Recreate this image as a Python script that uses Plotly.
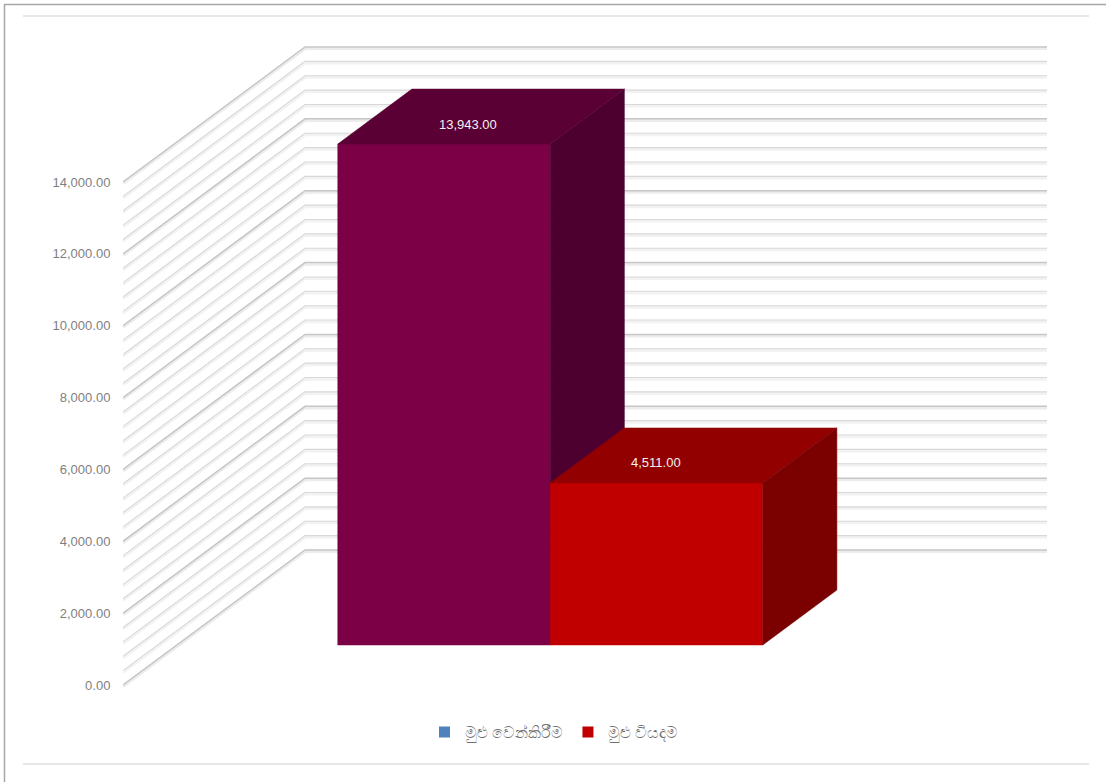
import plotly.graph_objects as go

# ---------------- data ----------------
categories = ["මුළු වෙන්කිරීම", "මුළු වියදම"]
values = [13943.00, 4511.00]
face_colors = ["#7b0046", "#c00000"]
top_colors = ["#5b0034", "#920000"]
side_colors = ["#4d0030", "#7b0000"]
legend_colors = ["#4f81bd", "#c00000"]
y_tick_values = [0, 2000, 4000, 6000, 8000, 10000, 12000, 14000]
y_tick_labels = ["0.00", "2,000.00", "4,000.00", "6,000.00", "8,000.00",
                 "10,000.00", "12,000.00", "14,000.00"]
grid_step = 400

# ---------------- geometry (styles) ----------------
W, H = 1106, 782
PLOT_LEFT = 123
PX_PER_U = 212.5          # one category width in px
U0_PX = 444               # px of category 0 front-face centre
K = 503 / 14000           # px per value unit
ZERO_PX = 685             # px of value 0 on the front-left plane
DEPTH_X_PX, DEPTH_Y_PX = 182, 135
DX = DEPTH_X_PX / PX_PER_U
DY = DEPTH_Y_PX / K
D0, D1 = 0.2963, 0.7037   # bar depth span
WALL_RIGHT_PX = 1047

x_range = [(PLOT_LEFT - U0_PX) / PX_PER_U, (W - U0_PX) / PX_PER_U]
y_range = [-(H - ZERO_PX) / K, ZERO_PX / K]


def proj(u, v, d):
    return u + d * DX, v + d * DY


fig = go.Figure()

# ---------------- gridlines (side wall + back wall) ----------------
u_wall_left = x_range[0]
u_wall_right = (WALL_RIGHT_PX - U0_PX) / PX_PER_U - DX
top_val = max(y_tick_values)
grid_vals = [i * grid_step for i in range(int(top_val / grid_step) + 1)]


def grid_xy(vals, offset_px=0.0):
    xs, ys = [], []
    for v in vals:
        vv = v - offset_px / K
        for (u, d) in [(u_wall_left, 0), (u_wall_left, 1), (u_wall_right, 1)]:
            x, y = proj(u, vv, d)
            xs.append(x)
            ys.append(y)
        xs.append(None)
        ys.append(None)
    return xs, ys


minor = [v for v in grid_vals if v not in y_tick_values]
major = [v for v in grid_vals if v in y_tick_values]

for vals, col, wid in [(minor, "#f2f2f2", 3), (major, "#ececec", 3)]:
    xs, ys = grid_xy(vals, offset_px=1.6)
    fig.add_trace(go.Scatter(x=xs, y=ys, mode="lines", line=dict(color=col, width=wid),
                             hoverinfo="skip", showlegend=False))
for vals, col, wid in [(minor, "#d8d8d8", 1.1), (major, "#c6c6c6", 1.5)]:
    xs, ys = grid_xy(vals)
    fig.add_trace(go.Scatter(x=xs, y=ys, mode="lines", line=dict(color=col, width=wid),
                             hoverinfo="skip", showlegend=False))

# ---------------- 3D bars ----------------
for i, (cat, val) in enumerate(zip(categories, values)):
    ul = i - 0.5 - D0 * DX
    ur = i + 0.5 - D0 * DX
    faces = []
    # front face
    faces.append(([(ul, 0, D0), (ur, 0, D0), (ur, val, D0), (ul, val, D0)], face_colors[i]))
    # top face
    faces.append(([(ul, val, D0), (ur, val, D0), (ur, val, D1), (ul, val, D1)], top_colors[i]))
    # side face
    faces.append(([(ur, 0, D0), (ur, 0, D1), (ur, val, D1), (ur, val, D0)], side_colors[i]))
    for pts, col in faces:
        xs, ys = zip(*[proj(*p) for p in pts])
        fig.add_trace(go.Scatter(x=list(xs) + [xs[0]], y=list(ys) + [ys[0]], mode="lines",
                                 fill="toself", fillcolor=col, line=dict(color=col, width=0.5),
                                 hoverinfo="skip", showlegend=False))

# value labels
label_xshift = [24, -1]
for i, val in enumerate(values):
    x, y = proj(i - D0 * DX, val, D0)
    fig.add_annotation(x=x, y=y, text=f"{val:,.2f}", showarrow=False,
                       yshift=20, xshift=label_xshift[i],
                       font=dict(size=13, color="#f2f2f2", family="Liberation Sans, Arial"))

# legend entries
for cat, col in zip(categories, legend_colors):
    fig.add_trace(go.Scatter(x=[None], y=[None], mode="markers", name=cat,
                             marker=dict(symbol="square", size=11, color=col)))


def px_x(p):
    return (p - PLOT_LEFT) / (W - PLOT_LEFT)


def px_y(p):
    return 1 - p / H


shapes = [
    dict(type="line", xref="paper", yref="paper", x0=px_x(4), x1=px_x(W), y0=px_y(4.5), y1=px_y(4.5),
         line=dict(color="#a6a6a6", width=1.5)),
    dict(type="line", xref="paper", yref="paper", x0=px_x(4.5), x1=px_x(4.5), y0=px_y(4), y1=px_y(H),
         line=dict(color="#a6a6a6", width=1.5)),
    dict(type="line", xref="paper", yref="paper", x0=px_x(23), x1=px_x(1089), y0=px_y(16), y1=px_y(16),
         line=dict(color="#e0e0e0", width=1.5)),
    dict(type="line", xref="paper", yref="paper", x0=px_x(23), x1=px_x(1089), y0=px_y(764), y1=px_y(764),
         line=dict(color="#e0e0e0", width=1.5)),
]

fig.update_layout(
    width=W, height=H,
    margin=dict(l=PLOT_LEFT, r=0, t=0, b=0),
    paper_bgcolor="white", plot_bgcolor="white",
    shapes=shapes,
    showlegend=True,
    legend=dict(orientation="h", x=px_x(554), y=px_y(732), xanchor="center", yanchor="middle",
                font=dict(size=16, color="#6f6f6f", family="Liberation Sans, Arial"),
                itemclick=False, itemdoubleclick=False, bgcolor="rgba(0,0,0,0)",
                itemwidth=30, tracegroupgap=0),
    xaxis=dict(range=x_range, visible=False, fixedrange=True),
    yaxis=dict(range=y_range, showgrid=False, zeroline=False, showline=False,
               tickmode="array", tickvals=y_tick_values, ticktext=y_tick_labels,
               ticks="outside", ticklen=9, tickcolor="rgba(0,0,0,0)",
               tickfont=dict(size=13, color="#7f7f7f", family="Liberation Sans, Arial"),
               automargin=False, fixedrange=True),
    hovermode=False,
)

fig.write_html("out.html", config={"displayModeBar": False},
               post_script="document.body.style.margin='0';document.body.style.overflow='hidden';")
